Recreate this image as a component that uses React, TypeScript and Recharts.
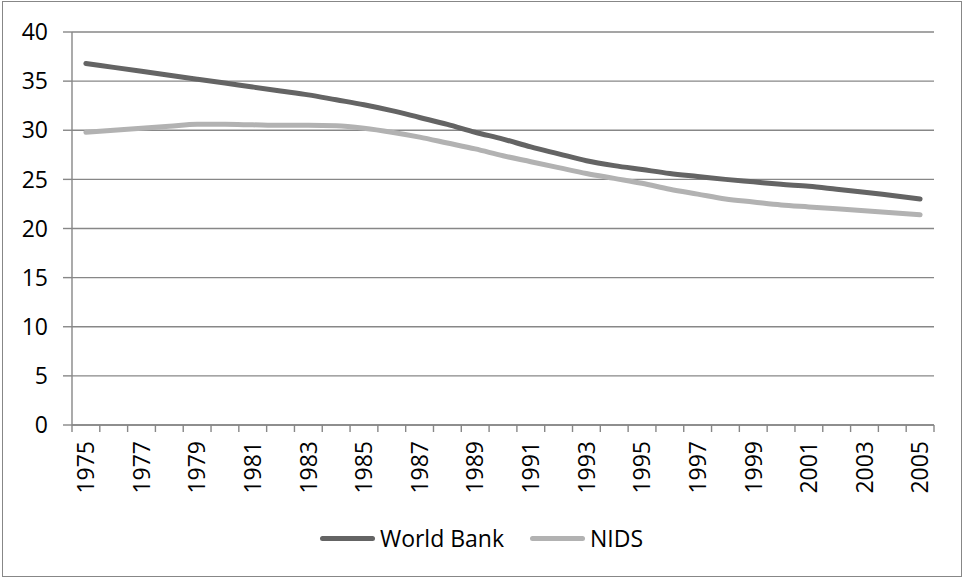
import { LineChart, Line, XAxis, YAxis, CartesianGrid, Legend } from 'recharts'

const YEARS = [
  1975, 1976, 1977, 1978, 1979, 1980, 1981, 1982, 1983, 1984, 1985, 1986, 1987, 1988, 1989, 1990,
  1991, 1992, 1993, 1994, 1995, 1996, 1997, 1998, 1999, 2000, 2001, 2002, 2003, 2004, 2005,
]
const WORLD_BANK = [
  36.8, 36.4, 36.0, 35.6, 35.2, 34.8, 34.4, 34.0, 33.6, 33.1, 32.6, 32.0, 31.3, 30.6, 29.8, 29.1,
  28.3, 27.6, 26.9, 26.4, 26.0, 25.6, 25.3, 25.0, 24.75, 24.5, 24.3, 24.0, 23.7, 23.35, 23.0,
]
const NIDS = [
  29.8, 30.0, 30.2, 30.4, 30.6, 30.6, 30.55, 30.5, 30.5, 30.45, 30.2, 29.8, 29.3, 28.7, 28.1, 27.4,
  26.8, 26.2, 25.6, 25.1, 24.6, 24.0, 23.5, 23.0, 22.7, 22.4, 22.2, 22.0, 21.8, 21.6, 21.4,
]
const Y_TICKS = [0, 5, 10, 15, 20, 25, 30, 35, 40]

const W = 963
const H = 578
const PLOT_LEFT = 72
const PLOT_RIGHT = 29
const FONT = '"Open Sans", sans-serif'
const FONT_SIZE = 23
const GRID = '#878787'
const DARK = '#646464'
const LIGHT = '#b2b2b2'

// tick marks sit between categories, like a category axis in a spreadsheet
const X_TICKS = [...YEARS.map(y => y - 0.5), YEARS[YEARS.length - 1] + 0.5]
const HALF_BAND = (W - PLOT_LEFT - PLOT_RIGHT) / YEARS.length / 2

const data = YEARS.map((year, i) => ({ year, wb: WORLD_BANK[i], nids: NIDS[i] }))

function YearTick(props: any) {
  const { x, payload } = props
  const year = payload.value + 0.5
  if (year > YEARS[YEARS.length - 1] || (year - YEARS[0]) % 2 !== 0) return null
  const cx = x + HALF_BAND
  const top = 441
  return (
    <text
      x={cx}
      y={top}
      dy="0.36em"
      textAnchor="end"
      transform={`rotate(-90, ${cx}, ${top})`}
      fontFamily={FONT}
      fontSize={FONT_SIZE}
      fill="#000"
    >
      {year}
    </text>
  )
}

function LegendContent() {
  const items = [
    { label: 'World Bank', color: DARK },
    { label: 'NIDS', color: LIGHT },
  ]
  return (
    <div style={{ display: 'flex', justifyContent: 'center', alignItems: 'center', height: 50 }}>
      {items.map(it => (
        <div key={it.label} style={{ display: 'flex', alignItems: 'center', margin: '0 13px' }}>
          <div style={{ width: 55, height: 5, borderRadius: 3, background: it.color, marginRight: 5 }} />
          <span style={{ fontFamily: FONT, fontSize: FONT_SIZE, color: '#000' }}>{it.label}</span>
        </div>
      ))}
    </div>
  )
}

export default function App() {
  return (
    <div style={{ position: 'absolute', left: 0, top: 0, width: W, height: H, background: '#fff' }}>
      <div
        style={{
          position: 'absolute',
          left: 2,
          top: 1,
          width: 958,
          height: 574,
          border: '1px solid #878787',
        }}
      />
      <LineChart
        width={W}
        height={H}
        data={data}
        margin={{ top: 32, right: PLOT_RIGHT, bottom: 15, left: 0 }}
      >
        <CartesianGrid horizontal vertical={false} stroke={GRID} strokeWidth={1.4} />
        <XAxis
          dataKey="year"
          type="number"
          domain={[1974.5, 2005.5]}
          ticks={X_TICKS}
          interval={0}
          height={88}
          tickSize={7}
          tick={<YearTick />}
          axisLine={{ stroke: GRID, strokeWidth: 1.4 }}
          tickLine={{ stroke: GRID, strokeWidth: 1.4 }}
        />
        <YAxis
          width={PLOT_LEFT}
          domain={[0, 40]}
          ticks={Y_TICKS}
          interval={0}
          tickSize={9}
          tickMargin={15}
          axisLine={{ stroke: GRID, strokeWidth: 1.4 }}
          tickLine={{ stroke: GRID, strokeWidth: 1.4 }}
          tick={{ fontFamily: FONT, fontSize: FONT_SIZE, fill: '#000' }}
        />
        <Legend
          verticalAlign="bottom"
          height={50}
          wrapperStyle={{ left: 0, width: W }}
          content={<LegendContent />}
        />
        <Line
          type="monotone"
          dataKey="wb"
          name="World Bank"
          stroke={DARK}
          strokeWidth={5}
          strokeLinecap="round"
          dot={false}
          isAnimationActive={false}
        />
        <Line
          type="monotone"
          dataKey="nids"
          name="NIDS"
          stroke={LIGHT}
          strokeWidth={5}
          strokeLinecap="round"
          dot={false}
          isAnimationActive={false}
        />
      </LineChart>
    </div>
  )
}
